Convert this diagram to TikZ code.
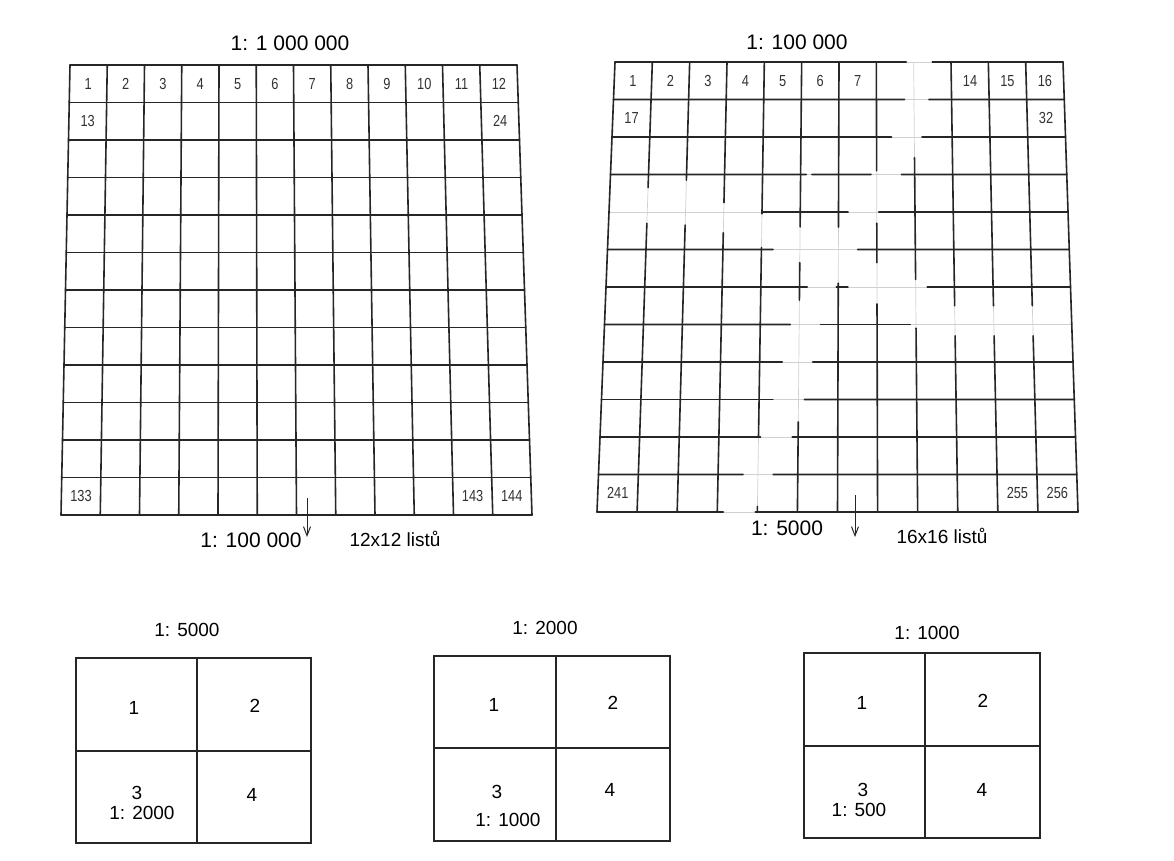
\documentclass[tikz,border=0pt]{standalone}
\usepackage{fontspec}
\setmainfont{Liberation Sans}
\usetikzlibrary{calc,arrows.meta}
\newcommand\cellnode[6]{% #1 grid prefix, #2 col, #3 row, #4 name, #5 text, #6 style
  \pgfmathsetmacro\fu{(#2+0.5)/12}%
  \pgfmathsetmacro\fv{(#3+0.5)/12}%
  \coordinate (ct) at ($(#1TL)!\fu!(#1TR)$);
  \coordinate (cb) at ($(#1BL)!\fu!(#1BR)$);
  \node[#6] (#4) at ($(ct)!\fv!(cb)$) {#5};
}
\begin{document}
\begin{tikzpicture}[x=1pt,y=-1pt,
  gridline/.style={line width=1.6pt, black!85, line cap=round},
  faintline/.style={line width=0.7pt, black!18},
  boxline/.style={line width=1.4pt, black!85},
  scalelabel/.style={font=\fontsize{21}{21}\selectfont, inner sep=0pt},
  sublabel/.style={font=\fontsize{19}{19}\selectfont, inner sep=0pt},
  cellnum/.style={font=\fontsize{16}{16}\selectfont, text=black!80, inner sep=0pt},
  lettering/.style={font=\fontsize{19}{19}\selectfont, inner sep=0pt},
  arr/.style={line width=1pt, black!85, -{Straight Barb[length=9pt,width=7pt]}}
]
\useasboundingbox (0,0) rectangle (1174,861);
\fill[white] (0,0) rectangle (1174,861);

% ---------- left grid 12x12 ----------
\coordinate (LTL) at (70,65);  \coordinate (LTR) at (517,65);
\coordinate (LBL) at (61,515); \coordinate (LBR) at (532,515);
\foreach \k in {0,...,12}{
  \draw[gridline] ($(LTL)!\k/12!(LTR)$) -- ($(LBL)!\k/12!(LBR)$);
  \draw[gridline] ($(LTL)!\k/12!(LBL)$) -- ($(LTR)!\k/12!(LBR)$);
}
\foreach \i/\j/\t in {0/0/1,1/0/2,2/0/3,3/0/4,4/0/5,5/0/6,6/0/7,7/0/8,8/0/9,9/0/10,10/0/11,11/0/12,
  0/1/13,11/1/24,0/11/133,10/11/143,11/11/144}{
  \cellnode{L}{\i}{\j}{L\t}{\scalebox{0.8}[1]{\t}}{cellnum}
}

% ---------- right grid 16x16 (broken) ----------
\coordinate (RTL) at (615,62);  \coordinate (RTR) at (1063,62);
\coordinate (RBL) at (597,512); \coordinate (RBR) at (1078,512);
\foreach \k in {0,...,12}{
  \draw[faintline] ($(RTL)!\k/12!(RTR)$) -- ($(RBL)!\k/12!(RBR)$);
  \draw[faintline] ($(RTL)!\k/12!(RBL)$) -- ($(RTR)!\k/12!(RBR)$);
}
\foreach \j/\a/\b in {0/0/7.8, 0/8.5/12,
  1/0/7.75, 1/8.4/12,
  2/0/7.4, 2/8.2/12,
  3/0/5.15, 3/5.3/6.85, 3/7.65/12,
  4/4.0/6.25, 4/7.05/12,
  5/0/4.3, 5/6.5/12,
  6/0/5.2, 6/5.95/6.25, 6/8.3/12,
  7/0/4.77, 7/5.55/7.85,
  8/0/4.58, 8/5.35/12,
  9/0/4.35, 9/5.15/12,
  10/0/4.05, 10/4.85/12,
  11/0/3.63, 11/4.38/12,
  12/0/3.15, 12/3.95/12}{
  \coordinate (hl) at ($(RTL)!\j/12!(RBL)$);
  \coordinate (hr) at ($(RTR)!\j/12!(RBR)$);
  \draw[gridline] ($(hl)!\a/12!(hr)$) -- ($(hl)!\b/12!(hr)$);
}
\foreach \i/\a/\b in {0/0/12,
  1/0/3.35, 1/4.3/12,
  2/0/3.15, 2/4.35/12,
  3/0/3.75, 3/4.55/12,
  4/0/4.05, 4/4.95/10, 4/11.85/12,
  5/0/4.4, 5/5.35/6.35, 5/9.6/12,
  6/0/4.4, 6/5.9/12,
  7/0/2.9, 7/4.3/5.35, 7/6.45/12,
  8/2.55/5.8, 8/7.1/12,
  9/0/6.5, 9/7.3/12,
  10/0/6.5, 10/7.3/12,
  11/0/6.5, 11/7.3/12,
  12/0/12}{
  \coordinate (vt) at ($(RTL)!\i/12!(RTR)$);
  \coordinate (vb) at ($(RBL)!\i/12!(RBR)$);
  \draw[gridline] ($(vt)!\a/12!(vb)$) -- ($(vt)!\b/12!(vb)$);
}
\foreach \i/\j/\t in {0/0/1,1/0/2,2/0/3,3/0/4,4/0/5,5/0/6,6/0/7,9/0/14,10/0/15,11/0/16,
  0/1/17,11/1/32,0/11/241,10/11/255,11/11/256}{
  \cellnode{R}{\i}{\j}{R\t}{\scalebox{0.8}[1]{\t}}{cellnum}
}

% ---------- titles and captions ----------
\node[scalelabel] (tL) at (290,43) {1: 1 000 000};
\node[scalelabel] (tR) at (797,42) {1: 100 000};
\node[scalelabel] (cL) at (251,540) {1: 100 000};
\node[lettering] (nL) at (395,539) {12x12 listů};
\coordinate (aL1) at (307,498); \coordinate (aL2) at (307,537);
\draw[arr] (aL1) -- (aL2);
\node[scalelabel] (cR) at (787,528) {1: 5000};
\node[lettering] (nR) at (942,536) {16x16 listů};
\coordinate (aR1) at (855,495); \coordinate (aR2) at (855,537);
\draw[arr] (aR1) -- (aR2);

% ---------- three 2x2 sheets ----------
% 1:5000
\draw[boxline] (76,658) rectangle (311,843);
\draw[boxline] (197,658) -- (197,843);
\draw[boxline] (76,751) -- (311,751);
\node[sublabel] (s1t) at (187,630) {1: 5000};
\node[sublabel] (s1a) at (134,708) {1};
\node[sublabel] (s1b) at (255,706) {2};
\node[sublabel] (s1c) at (137,793) {3};
\node[sublabel] (s1e) at (142,813) {1: 2000};
\node[sublabel] (s1d) at (252,795) {4};
% 1:2000
\draw[boxline] (434,656) rectangle (670,841);
\draw[boxline] (556,656) -- (556,841);
\draw[boxline] (434,748) -- (670,748);
\node[sublabel] (s2t) at (545,628) {1: 2000};
\node[sublabel] (s2a) at (494,705) {1};
\node[sublabel] (s2b) at (613,703) {2};
\node[sublabel] (s2c) at (497,792) {3};
\node[sublabel] (s2e) at (508,820) {1: 1000};
\node[sublabel] (s2d) at (610,790) {4};
% 1:1000
\draw[boxline] (804,653) rectangle (1040,838);
\draw[boxline] (925,653) -- (925,838);
\draw[boxline] (804,746) -- (1040,746);
\node[sublabel] (s3t) at (927,633) {1: 1000};
\node[sublabel] (s3a) at (862,703) {1};
\node[sublabel] (s3b) at (983,701) {2};
\node[sublabel] (s3c) at (863,790) {3};
\node[sublabel] (s3e) at (859,810) {1: 500};
\node[sublabel] (s3d) at (982,790) {4};
\end{tikzpicture}
\end{document}
